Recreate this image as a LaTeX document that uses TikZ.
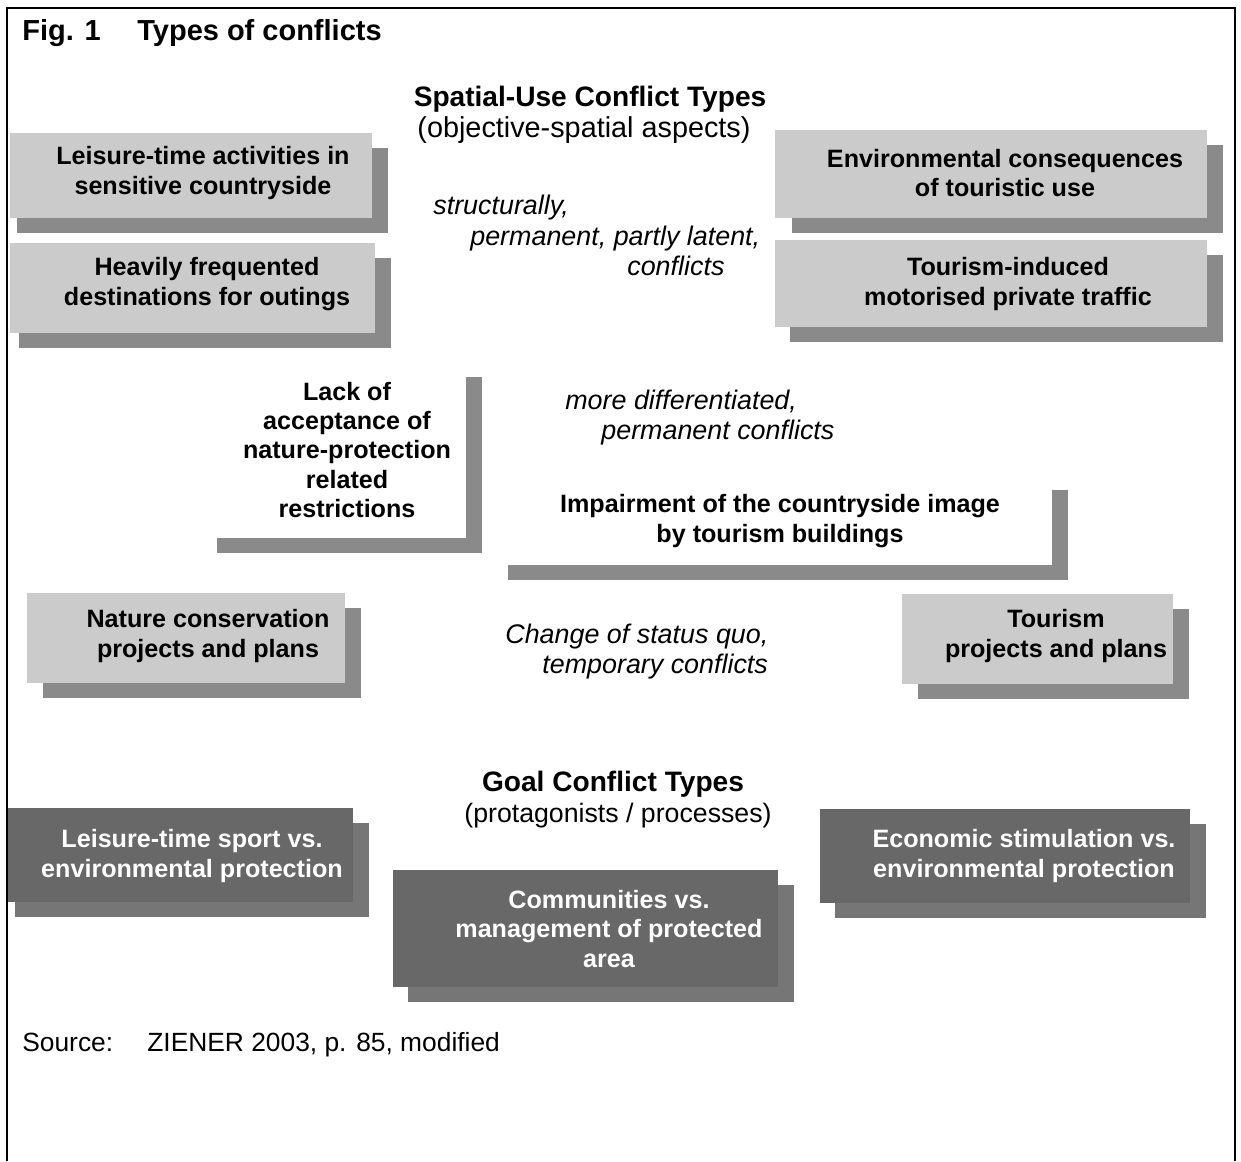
\documentclass[tikz,border=0pt]{standalone}
\usepackage{fontspec}
\setmainfont{Liberation Sans}
\usetikzlibrary{positioning}
\tikzstyle{figure} = [x = 0.02cm, y = -0.02cm]
\definecolor{lightFront}{RGB}{203,203,203}
\definecolor{lightShadow}{RGB}{138,138,138}
\definecolor{darkFront}{RGB}{104,104,104}
\definecolor{darkShadow}{RGB}{118,118,118}
\tikzstyle{frameLine} = [line width=1.2pt, color=black]
\tikzstyle{lightFrontStyle} = [fill=lightFront]
\tikzstyle{lightShadowStyle} = [fill=lightShadow]
\tikzstyle{darkFrontStyle} = [fill=darkFront]
\tikzstyle{darkShadowStyle} = [fill=darkShadow]
\tikzstyle{boxText} = [align=center, inner sep=0pt, font=\fontsize{14.3}{16.6}\selectfont\bfseries]
\tikzstyle{darkText} = [boxText, text=white]
\tikzstyle{italicText} = [anchor=base west, inner sep=0pt, font=\fontsize{15.3}{18}\selectfont\itshape]
\tikzstyle{headText} = [anchor=base, inner sep=0pt, font=\fontsize{16}{19}\selectfont\bfseries]
\tikzstyle{subText} = [anchor=base, inner sep=0pt, font=\fontsize{16.4}{19}\selectfont]
\tikzstyle{plainText} = [anchor=base west, inner sep=0pt, font=\fontsize{15}{18}\selectfont]
% front box x1 y1 x2 y2, then left edge of the shadow
\newcommand{\lightBox}[5]{\fill [lightShadowStyle] (#5, #2 + 15) rectangle (#3 + 16, #4 + 15); \fill [lightFrontStyle] (#1, #2) rectangle (#3, #4);}
\newcommand{\darkBox}[5]{\fill [darkShadowStyle] (#5, #2 + 15) rectangle (#3 + 16, #4 + 15); \fill [darkFrontStyle] (#1, #2) rectangle (#3, #4);}
\newcommand{\whiteBox}[4]{\fill [lightShadowStyle] (#1 + 16, #2 + 15) rectangle (#3 + 16, #4 + 15); \fill [white] (#1, #2) rectangle (#3, #4);}

\begin{document}
\begin{tikzpicture}[figure]
  \useasboundingbox (0,0) rectangle (1241,1161);
  \draw [frameLine] (7,1161) -- (7,8) -- (1235,8) -- (1235,1161);

  % title
  \node [anchor=base west, inner sep=0pt, font=\fontsize{16.5}{20}\selectfont\bfseries] (figNumber) at (22,40) {Fig. 1};
  \node [anchor=base west, inner sep=0pt, font=\fontsize{16.5}{20}\selectfont\bfseries] (figTitle) at (137,40) {Types of conflicts};

  % spatial-use conflict types
  \node [headText] (spatialHead) at (590,106) {Spatial-Use Conflict Types};
  \node [subText] (spatialSub) at (584,137) {(objective-spatial aspects)};

  \lightBox{10}{133}{372}{218}{17}
  \lightBox{10}{243}{375}{333}{19}
  \lightBox{775}{130}{1207}{218}{792}
  \lightBox{775}{240}{1207}{327}{790}
  \node [boxText] (leisureActivities) at (203,173) {Leisure-time activities in\\sensitive countryside};
  \node [boxText] (heavyDestinations) at (207,284) {Heavily frequented\\destinations for outings};
  \node [boxText] (envConsequences) at (1005,173) {Environmental consequences\\of touristic use};
  \node [boxText] (motorTraffic) at (1008,284) {Tourism-induced\\motorised private traffic};

  \node [italicText] (structOne) at (433,214) {structurally,};
  \node [italicText] (structTwo) at (470,245) {permanent, partly latent,};
  \node [italicText] (structThree) at (627,275) {conflicts};

  % differentiated conflicts
  \whiteBox{201}{362}{466}{538}
  \whiteBox{492}{475}{1052}{565}
  \node [boxText] (lackAcceptance) at (347,450) {Lack of\\acceptance of\\nature-protection\\related\\restrictions};
  \node [boxText] (impairment) at (780,521) {Impairment of the countryside image\\by tourism buildings};
  \node [italicText] (diffOne) at (565,409) {more differentiated,};
  \node [italicText] (diffTwo) at (601,439) {permanent conflicts};

  % temporary conflicts
  \lightBox{27}{593}{345}{683}{43}
  \lightBox{902}{594}{1173}{684}{918}
  \node [boxText] (natureProjects) at (208,636) {Nature conservation\\projects and plans};
  \node [boxText] (tourismProjects) at (1056,636) {Tourism\\projects and plans};
  \node [italicText] (changeOne) at (505,643) {Change of status quo,};
  \node [italicText] (changeTwo) at (542,673) {temporary conflicts};

  % goal conflict types
  \node [headText] (goalHead) at (613,791) {Goal Conflict Types};
  \node [subText, font=\fontsize{15.2}{18}\selectfont] (goalSub) at (618,822) {(protagonists / processes)};

  \darkBox{8}{808}{353}{902}{15}
  \darkBox{393}{870}{778}{987}{408}
  \darkBox{820}{809}{1190}{903}{835}
  \node [darkText] (sportProtection) at (192,856) {Leisure-time sport vs.\\environmental protection};
  \node [darkText] (communities) at (609,929) {Communities vs.\\management of protected\\area};
  \node [darkText] (economicProtection) at (1024,856) {Economic stimulation vs.\\environmental protection};

  % source
  \node [plainText] (sourceLabel) at (22,1051) {Source:};
  \node [plainText] (sourceText) at (147,1051) {ZIENER 2003, p. 85, modified};
\end{tikzpicture}
\end{document}
